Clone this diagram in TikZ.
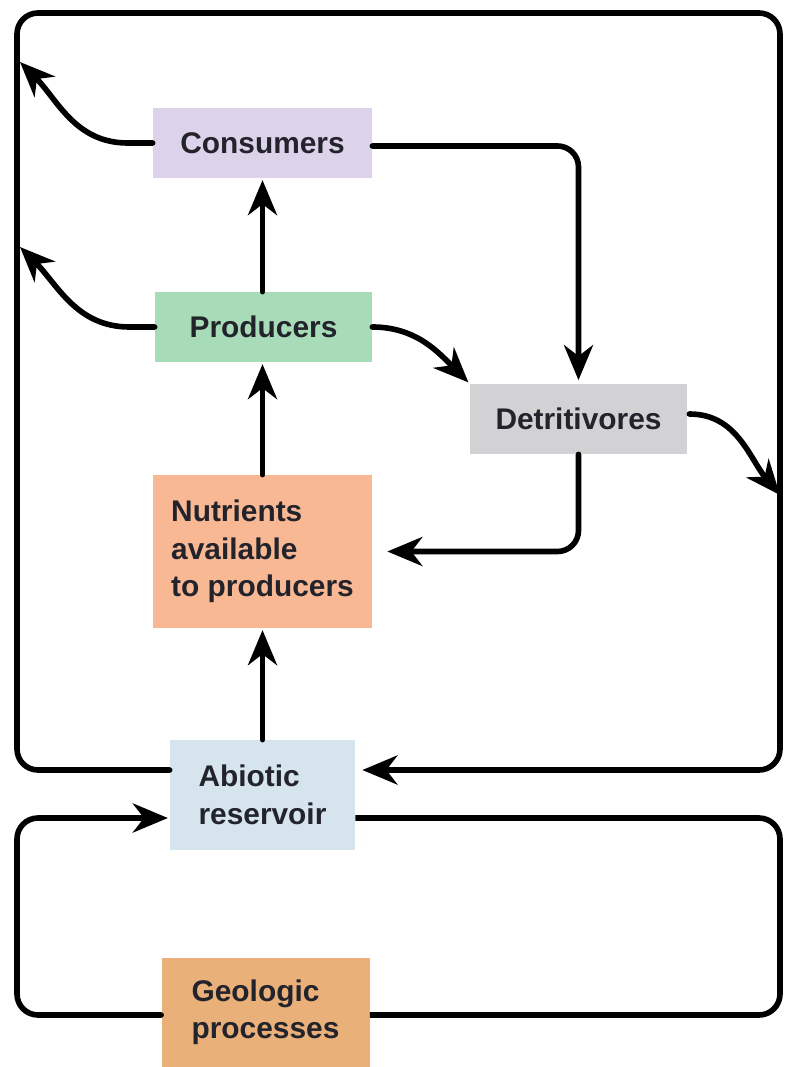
\documentclass[tikz,border=0pt]{standalone}
\usepackage{fontspec}
\setmainfont{Liberation Sans}
\usetikzlibrary{arrows.meta}

\definecolor{consfill}{HTML}{DCD2EA}
\definecolor{prodfill}{HTML}{A8DCB8}
\definecolor{detrfill}{HTML}{D2D2D4}
\definecolor{nutrfill}{HTML}{F9B894}
\definecolor{abiofill}{HTML}{D6E4EE}
\definecolor{geofill}{HTML}{E9B07A}
\definecolor{ink}{HTML}{23232C}

\begin{document}
\begin{tikzpicture}[x=0.02cm, y=-0.02cm,
  box/.style={rectangle, inner sep=0pt, align=left, text=ink,
    font=\fontsize{17}{21.3}\selectfont\bfseries},
  flow/.style={line width=3.2pt, black, line cap=round,
    -{Stealth[length=0.7cm, width=0.58cm, inset=0.22cm]}},
  plain/.style={line width=3.2pt, black},
  roundbend/.style={rounded corners=0.42cm}]

\useasboundingbox (0,0) rectangle (784,1067);

% compartments of the cycle
\node[box, fill=consfill, minimum width=219*0.02cm, minimum height=70*0.02cm] (cons) at (262.5,143) {Consumers};
\node[box, fill=prodfill, minimum width=217*0.02cm, minimum height=70*0.02cm] (prod) at (263.5,327) {Producers};
\node[box, fill=detrfill, minimum width=217*0.02cm, minimum height=70*0.02cm] (detr) at (578.5,419) {Detritivores};
\node[box, fill=nutrfill, minimum width=219*0.02cm, minimum height=153*0.02cm] (nutr) at (262.5,551.5) {Nutrients\\available\\to producers};
\node[box, fill=abiofill, minimum width=185*0.02cm, minimum height=110*0.02cm] (abio) at (262.5,795) {Abiotic\\reservoir};
\node[box, fill=geofill, minimum width=208*0.02cm, minimum height=109*0.02cm] (geo) at (265.5,1012.5) {Geologic\\processes};

% corners of the outer loop
\coordinate (otl) at (17,13);
\coordinate (otr) at (780,13);
\coordinate (obl) at (17,770);
\coordinate (obr) at (780,770);
% points where side flows meet the outer loop
\coordinate (cwall) at (20,62);
\coordinate (pwall) at (20,247);
\coordinate (dwall) at (780,495);
% corners of the lower loop
\coordinate (ilt) at (17,818);
\coordinate (irt) at (780,818);
\coordinate (ilb) at (17,1015);
\coordinate (irb) at (780,1015);

% outer loop back to the abiotic reservoir
\draw[flow, roundbend, shorten >=0.14cm] (abio.west |- obl) -- (obl) -- (otl) -- (otr) -- (obr) -- (abio.east |- obr);

% losses to the outer loop
\draw[flow] (cons.west) -- ++(-25,0) to[out=180, in=-45] (cwall);
\draw[flow] (prod.west) -- ++(-25,0) to[out=180, in=-45] (pwall);
\draw[flow] (detr.east) ++(2,-5) to[out=0, in=130] (dwall);

% upward flows
\draw[flow, shorten >=1pt] (abio.north) -- (abio.north |- nutr.south);
\draw[flow, shorten >=1pt] (nutr.north) -- (nutr.north |- prod.south);
\draw[flow, shorten >=1pt] (prod.north -| cons.south) -- (cons.south);

% flows into and out of the detritivores
\draw[flow, roundbend, shorten >=2pt] ([yshift=-3*0.02cm]cons.east) -| (detr.north);
\draw[flow, shorten >=1pt] (prod.east) to[out=0, in=135] (detr.north west);
\draw[flow, roundbend, shorten >=0.3cm] (detr.south) |- (nutr.east);

% lower loop through geologic processes
\draw[plain, roundbend] (abio.east |- irt) -- (irt) -- (irb) -- (geo.east |- irb);
\draw[flow, roundbend, shorten >=1pt] (geo.west |- ilb) -- (ilb) -- (ilt) -- (abio.west |- ilt);

\end{tikzpicture}
\end{document}
